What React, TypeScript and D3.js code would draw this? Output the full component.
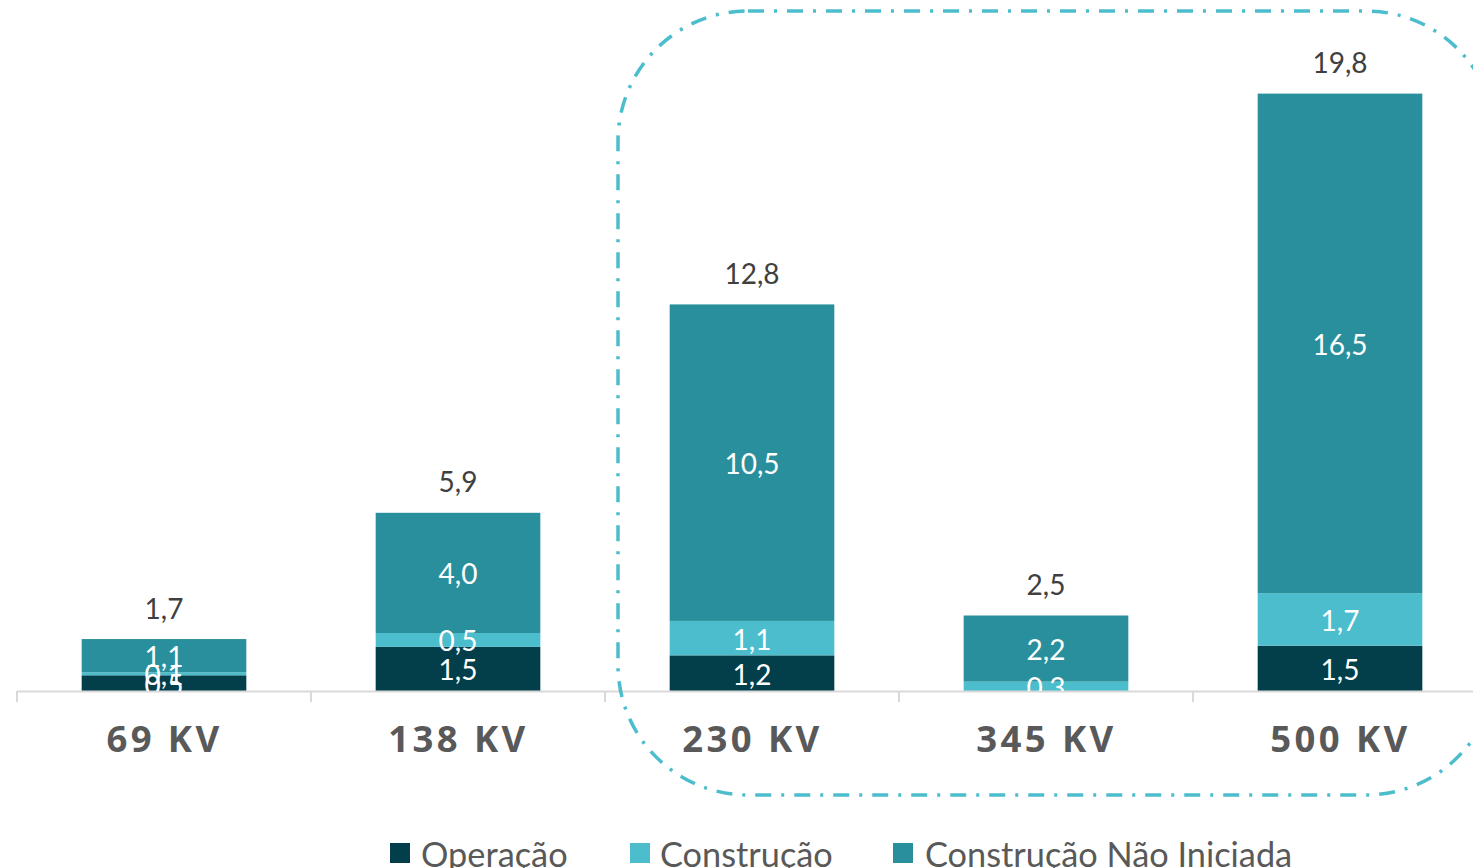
import React from "react";
import * as d3 from "d3";

const categories = ["69 KV", "138 KV", "230 KV", "345 KV", "500 KV"];
const operacao = [0.52, 1.46, 1.18, 0, 1.5];
const construcao = [0.1, 0.46, 1.14, 0.31, 1.74];
const naoIniciada = [1.1, 3.98, 10.48, 2.19, 16.54];
const seriesNames = ["Operação", "Construção", "Construção Não Iniciada"];
const seriesColors = ["#023F4A", "#4CBDCC", "#2A8F9C"];

const W = 1473;
const H = 868;
const baseY = 691;

const fmt = (v: number) => d3.format(".1f")(v).replace(".", ",");

export default function App() {
  const series = [operacao, construcao, naoIniciada];
  const rows = categories.map((c, i) => ({
    cat: c,
    s0: operacao[i],
    s1: construcao[i],
    s2: naoIniciada[i],
  }));
  const stack = d3.stack<any>().keys(["s0", "s1", "s2"])(rows);
  const totals = rows.map((r) => r.s0 + r.s1 + r.s2);

  const x = d3
    .scaleBand<string>()
    .domain(categories)
    .range([17, 17 + 294 * 5])
    .paddingInner(0.44)
    .paddingOuter(0.22);
  const y = d3.scaleLinear().domain([0, 19.8]).range([baseY, 93]);

  const valueFont = "Lato, 'Open Sans', sans-serif";

  const legendItems = [
    { sx: 390, tx: 421 },
    { sx: 630, tx: 660 },
    { sx: 893, tx: 925 },
  ];

  return (
    <svg
      width={W}
      height={H}
      style={{ position: "absolute", left: 0, top: 0, background: "#fff" }}
    >
      <defs>
        <clipPath id="plot">
          <rect x={0} y={0} width={W} height={baseY} />
        </clipPath>
      </defs>
      {/* bars */}
      {stack.map((layer, si) => (
        <g key={si} fill={seriesColors[si]}>
          {layer.map((d, i) => {
            const h = y(d[0]) - y(d[1]);
            if (h <= 0) return null;
            return (
              <rect
                key={i}
                x={x(categories[i])}
                y={y(d[1])}
                width={x.bandwidth()}
                height={h}
              />
            );
          })}
        </g>
      ))}
      {/* axis */}
      <line x1={17} x2={W} y1={baseY + 0.5} y2={baseY + 0.5} stroke="#D9D9D9" strokeWidth={2} />
      {categories.map((c, i) => {
        const tx = (x(c) as number) - (x.step() * x.paddingInner()) / 2;
        return (
          <line key={i} x1={tx} x2={tx} y1={baseY} y2={baseY + 11} stroke="#D9D9D9" strokeWidth={2} />
        );
      })}
      {/* inner labels */}
      <g clipPath="url(#plot)">
        {stack.map((layer, si) =>
          layer.map((d, i) => {
            const v = series[si][i];
            if (v <= 0) return null;
            const cy = (y(d[0]) + y(d[1])) / 2;
            return (
              <text
                key={si + "-" + i}
                x={(x(categories[i]) as number) + x.bandwidth() / 2}
                y={cy + 11.5}
                textAnchor="middle"
                fill="#FFFFFF"
                fontFamily={valueFont}
                fontSize={28}
              >
                {fmt(v)}
              </text>
            );
          })
        )}
      </g>
      {/* totals */}
      {totals.map((t, i) => (
        <text
          key={i}
          x={(x(categories[i]) as number) + x.bandwidth() / 2}
          y={y(t) - 20.5}
          textAnchor="middle"
          fill="#404040"
          fontFamily={valueFont}
          fontSize={28}
        >
          {fmt(t)}
        </text>
      ))}
      {/* category labels */}
      {categories.map((c, i) => (
        <text
          key={i}
          x={(x(c) as number) + x.bandwidth() / 2 + 0.5}
          y={752}
          textAnchor="middle"
          fill="#595959"
          fontFamily="'Open Sans', sans-serif"
          fontWeight={700}
          fontSize={36.5}
          letterSpacing={3.4}
        >
          {c}
        </text>
      ))}
      {/* highlight box */}
      <rect
        x={618}
        y={11}
        width={878}
        height={784}
        rx={130}
        ry={130}
        fill="none"
        stroke="#4CBDCC"
        strokeWidth={3.5}
        strokeDasharray="16 10 3 10"
      />
      {/* legend */}
      {seriesNames.map((n, i) => (
        <g key={n}>
          <rect x={legendItems[i].sx} y={843} width={20} height={20} fill={seriesColors[i]} />
          <text
            x={legendItems[i].tx}
            y={867}
            fill="#595959"
            fontFamily={valueFont}
            fontSize={34.3}
          >
            {n}
          </text>
        </g>
      ))}
    </svg>
  );
}
